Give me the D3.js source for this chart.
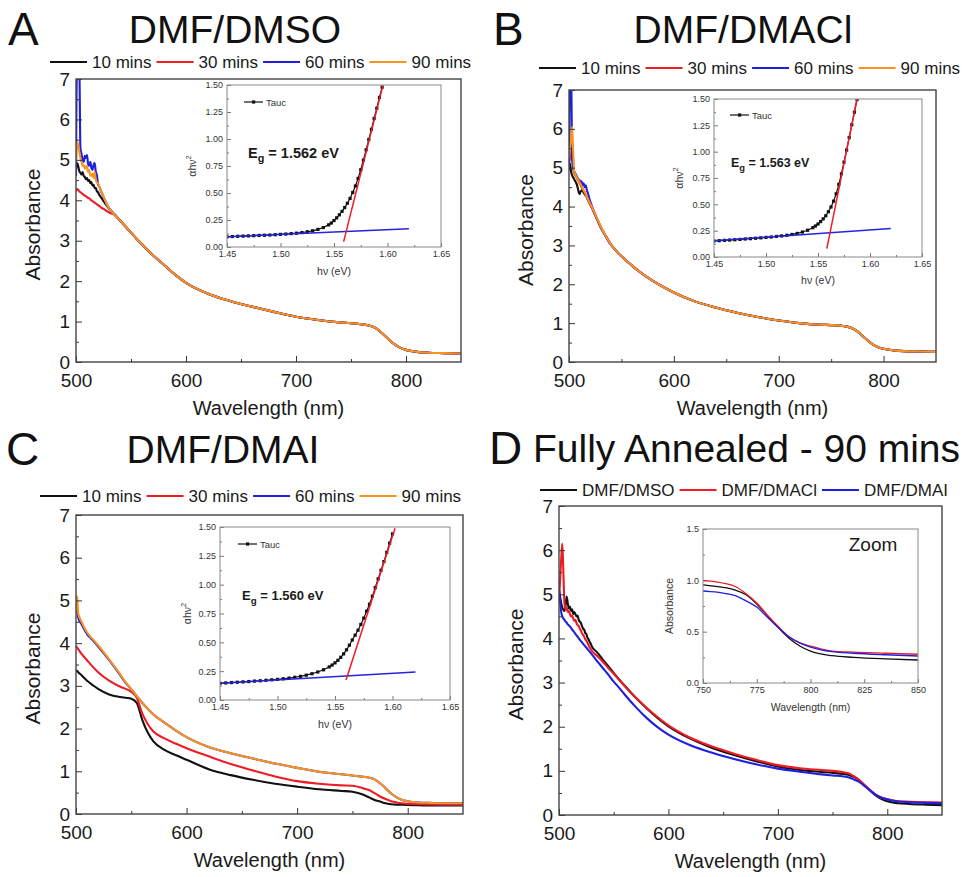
<!DOCTYPE html>
<html>
<head>
<meta charset="utf-8">
<script src="https://cdn.jsdelivr.net/npm/d3@7"></script>
<style>
  body { margin: 0; background: #fff; }
  svg { display: block; }
  text { font-family: "Liberation Sans", Arial, Helvetica, sans-serif; }
</style>
</head>
<body>
<svg id="chart" width="975" height="877"></svg>
<script>
// ---------- absorbance spectra (wavelength in nm, absorbance in a.u.) ----------
const wlHead = [500,501,502,503,504,505,506,507,508,509,510,511,512,513,514,515,
                516,517,518,519,520,521,522,523,524,525,526,527,528,529,530];
const wlTail = [535,540,545,550,555,560,570,580,590,600,620,640,660,680,700,720,740,
                750,760,765,770,775,780,785,790,795,800,810,820,835,850];

// A: DMF/DMSO
const dmsoHead10 = [4.75,4.92,4.85,4.72,4.68,4.64,4.7,4.6,4.58,4.52,4.55,4.48,4.5,4.42,4.45,4.36,
                    4.38,4.3,4.3,4.22,4.2,4.14,4.1,4.06,4.02,3.98,3.94,3.9,3.87,3.83,3.8];
const dmsoHead30 = [4.22,4.28,4.26,4.22,4.2,4.18,4.16,4.13,4.12,4.1,4.08,4.06,4.05,4.02,4.0,3.98,
                    3.96,3.94,3.92,3.9,3.88,3.86,3.84,3.82,3.8,3.79,3.77,3.75,3.73,3.72,3.7];
const dmsoHead60 = [4.6,7.6,7.6,7.4,5.3,5.15,5.0,4.95,5.1,5.05,5.12,4.9,4.85,4.95,4.8,4.75,
                    4.88,4.92,4.7,4.62,4.4,4.35,4.28,4.2,4.15,4.08,4.02,3.96,3.9,3.85,3.8];
const dmsoHead90 = [4.95,5.45,5.35,5.2,5.05,4.95,4.85,4.88,4.78,4.82,4.85,4.7,4.75,4.62,4.6,4.66,
                    4.55,4.7,4.5,4.45,4.42,4.35,4.28,4.22,4.15,4.1,4.02,3.96,3.9,3.85,3.8];
const dmsoTail = [3.65,3.5,3.35,3.2,3.05,2.91,2.64,2.4,2.16,1.96,1.69,1.51,1.37,1.24,1.12,1.04,0.98,
                  0.96,0.93,0.91,0.87,0.79,0.67,0.54,0.43,0.35,0.3,0.25,0.23,0.22,0.21];

// B: DMF/DMACl
const dmaclHead10 = [4.95,5.1,4.9,4.8,4.75,4.7,4.65,4.6,4.52,4.4,4.32,4.38,4.42,4.4,4.36,4.32,
                     4.28,4.24,4.18,4.12,4.06,4.01,3.96,3.9,3.84,3.78,3.72,3.66,3.6,3.54,3.48];
const dmaclHead30 = [5.1,5.3,5.6,5.5,5.0,4.85,4.8,4.76,4.7,4.66,4.6,4.56,4.5,4.46,4.4,4.36,
                     4.3,4.24,4.18,4.12,4.06,4.01,3.96,3.9,3.84,3.78,3.72,3.66,3.6,3.54,3.48];
const dmaclHead60 = [5.0,7.6,7.6,5.2,5.0,4.9,4.85,4.8,4.75,4.7,4.68,4.62,4.65,4.55,4.6,4.5,
                     4.55,4.42,4.35,4.25,4.15,4.08,4.0,3.93,3.86,3.8,3.73,3.67,3.61,3.55,3.49];
const dmaclHead90 = [5.25,5.5,5.75,6.05,5.4,4.9,4.82,4.78,4.72,4.68,4.62,4.58,4.52,4.48,4.42,4.38,
                     4.32,4.26,4.2,4.14,4.08,4.03,3.98,3.92,3.86,3.8,3.74,3.68,3.62,3.56,3.5];
const dmaclTail = [3.24,3.02,2.86,2.72,2.6,2.48,2.27,2.09,1.93,1.79,1.56,1.4,1.27,1.16,1.07,1.0,0.96,
                   0.95,0.93,0.91,0.87,0.79,0.67,0.55,0.45,0.38,0.34,0.3,0.28,0.27,0.26];

// C: DMF/DMAI
const wlDmai = [500,501,502,505,510,515,520,530,540,545,550,555,560,565,570,580,590,600,
                620,640,660,680,700,720,740,750,760,765,770,775,780,785,790,795,800,810,820,835,850];
const dmai10 = [3.37,3.35,3.32,3.25,3.12,3.02,2.93,2.8,2.74,2.72,2.7,2.6,2.2,1.9,1.7,1.5,1.38,1.27,
                1.05,0.91,0.8,0.71,0.64,0.58,0.54,0.52,0.45,0.39,0.33,0.29,0.25,0.23,0.22,0.215,0.21,0.205,0.2,0.2,0.2];
const dmai30 = [3.92,3.9,3.86,3.75,3.6,3.45,3.32,3.12,2.98,2.93,2.86,2.72,2.35,2.1,1.93,1.77,1.65,1.54,
                1.35,1.17,1.02,0.88,0.77,0.71,0.67,0.66,0.6,0.56,0.49,0.41,0.35,0.3,0.27,0.25,0.24,0.23,0.225,0.22,0.22];
const dmai60 = [4.72,4.75,4.6,4.44,4.21,4.07,3.92,3.6,3.25,3.07,2.92,2.76,2.6,2.46,2.33,2.14,1.96,1.8,
                1.57,1.42,1.3,1.18,1.08,0.99,0.93,0.9,0.87,0.85,0.81,0.72,0.6,0.48,0.39,0.33,0.3,0.27,0.26,0.25,0.25];
const dmai90 = [4.75,5.1,4.7,4.5,4.25,4.1,3.95,3.62,3.27,3.08,2.92,2.76,2.6,2.46,2.33,2.14,1.96,1.8,
                1.57,1.42,1.3,1.18,1.08,0.99,0.93,0.9,0.87,0.85,0.81,0.72,0.6,0.48,0.39,0.33,0.3,0.27,0.26,0.25,0.25];

// D: fully annealed films (90 mins)
const finalHeadDmso = [5.1,4.95,4.8,4.7,4.65,4.62,4.75,4.95,4.8,4.68,4.72,4.62,4.66,4.55,4.6,4.55,
                       4.5,4.52,4.42,4.38,4.35,4.28,4.22,4.2,4.12,4.1,4.02,3.98,3.92,3.88,3.82];
const finalHeadDmacl = [4.9,5.3,5.8,6.15,5.5,4.8,4.65,4.7,4.6,4.62,4.55,4.5,4.52,4.45,4.4,4.42,
                        4.35,4.3,4.28,4.22,4.18,4.12,4.08,4.04,3.98,3.95,3.9,3.85,3.8,3.76,3.72];
const finalHeadDmai = [5.1,4.85,4.6,4.5,4.45,4.42,4.38,4.36,4.32,4.3,4.27,4.24,4.2,4.17,4.14,4.1,
                       4.07,4.04,4.0,3.97,3.94,3.91,3.88,3.85,3.82,3.79,3.76,3.73,3.7,3.67,3.64];
const finalTailDmso = [3.68,3.52,3.37,3.22,3.07,2.93,2.66,2.42,2.2,2.01,1.73,1.52,1.36,1.22,1.1,1.02,0.975,
                       0.955,0.93,0.905,0.86,0.77,0.656,0.54,0.435,0.36,0.31,0.266,0.25,0.235,0.224];
const finalTailDmacl = [3.6,3.47,3.33,3.2,3.06,2.92,2.66,2.43,2.22,2.03,1.75,1.55,1.39,1.25,1.13,1.06,1.02,
                        1.0,0.97,0.94,0.87,0.78,0.66,0.55,0.45,0.39,0.36,0.31,0.3,0.29,0.28];
const finalTailDmai = [3.48,3.33,3.18,3.02,2.88,2.73,2.45,2.2,1.99,1.82,1.58,1.41,1.27,1.15,1.05,0.98,0.92,
                       0.896,0.874,0.85,0.8,0.74,0.64,0.54,0.45,0.39,0.35,0.305,0.29,0.275,0.263];

// ---------- Tauc plots (photon energy in eV, (αhν)^2) ----------
const taucHv = [1.450,1.455,1.460,1.465,1.470,1.475,1.480,1.485,1.490,1.495,1.500,1.505,1.510,1.515,
                1.520,1.525,1.530,1.535,1.540,1.545,1.5475,1.550,1.5525,1.555,1.5575,1.560,1.5625,
                1.565,1.5675,1.570,1.5725,1.575,1.5775,1.580,1.5825,1.585,1.5875,1.590,1.5925,1.595,1.5975,1.600];
const taucDmso = [0.094,0.097,0.099,0.101,0.103,0.105,0.107,0.109,0.111,0.114,0.117,0.120,0.124,0.128,
                  0.134,0.141,0.150,0.163,0.180,0.205,0.222,0.245,0.27,0.298,0.33,0.365,0.405,0.45,
                  0.505,0.565,0.635,0.715,0.805,0.9,0.995,1.09,1.19,1.285,1.385,1.48];
const taucDmacl = [0.152,0.155,0.158,0.161,0.164,0.167,0.171,0.174,0.178,0.182,0.186,0.19,0.195,0.2,
                   0.206,0.214,0.224,0.237,0.254,0.278,0.294,0.313,0.336,0.362,0.392,0.43,0.475,0.53,
                   0.6,0.69,0.79,0.9,1.015,1.135,1.255,1.375,1.495];
const taucDmai = [0.145,0.148,0.151,0.154,0.157,0.16,0.164,0.167,0.171,0.175,0.179,0.184,0.19,0.197,
                  0.205,0.215,0.228,0.243,0.262,0.287,0.303,0.322,0.344,0.37,0.4,0.435,0.475,0.52,
                  0.562,0.605,0.655,0.71,0.77,0.83,0.9,0.975,1.05,1.125,1.2,1.28,1.36,1.44];
// linear fits: baseline and absorption edge [[hv, y], [hv, y]]
const baseDmso = [[1.45, 0.095], [1.62, 0.168]];
const edgeDmso = [[1.559, 0.05], [1.5958, 1.50]];
const baseDmacl = [[1.45, 0.155], [1.62, 0.27]];
const edgeDmacl = [[1.5585, 0.08], [1.5875, 1.50]];
const baseDmai = [[1.45, 0.145], [1.62, 0.243]];
const edgeDmai = [[1.5596, 0.173], [1.6022, 1.49]];
const bandGaps = ["1.562", "1.563", "1.560"];

// ---------- labels and ticks ----------
const timeLabels = ["10 mins", "30 mins", "60 mins", "90 mins"];
const solventLabels = ["DMF/DMSO", "DMF/DMACl", "DMF/DMAI"];
const panelTitles = ["DMF/DMSO", "DMF/DMACl", "DMF/DMAI", "Fully Annealed - 90 mins"];
const panelLetters = ["A", "B", "C", "D"];
const wlTicks = [500, 600, 700, 800];
const wlMinor = [550, 650, 750];
const absTicks = [0, 1, 2, 3, 4, 5, 6, 7];
const absMinor = [0.5, 1.5, 2.5, 3.5, 4.5, 5.5, 6.5];
const hvTicks = [1.45, 1.50, 1.55, 1.60, 1.65];
const hvMinor = [1.475, 1.525, 1.575, 1.625];
const taucTicks = [0, 0.25, 0.5, 0.75, 1.0, 1.25, 1.5];
const taucMinor = [0.125, 0.375, 0.625, 0.875, 1.125, 1.375];
const zoomWlTicks = [750, 775, 800, 825, 850];
const zoomWlMinor = [762.5, 787.5, 812.5, 837.5];
const zoomAbsTicks = [0, 0.5, 1.0, 1.5];
const zoomAbsMinor = [0.25, 0.75, 1.25];

const colors = ["#111111", "#ee1c24", "#1f1fe0", "#f7931e"];

const svg = d3.select("#chart");
const defs = svg.append("defs");
let clipCount = 0;

function addClip(x0, y0, x1, y1) {
  const id = "clip" + (clipCount++);
  defs.append("clipPath").attr("id", id).append("rect")
    .attr("x", x0).attr("y", y0).attr("width", x1 - x0).attr("height", y1 - y0);
  return `url(#${id})`;
}

function styleAxis(sel, size, color) {
  sel.select(".domain").remove();
  sel.selectAll("line").attr("stroke", "#333").attr("stroke-width", 1);
  sel.selectAll("text").attr("font-size", size).attr("fill", color);
}

// ---------- main spectrum panel ----------
function drawMain(p) {
  const x = d3.scaleLinear().domain([500, 850]).range([p.left, p.right]);
  const y = d3.scaleLinear().domain([0, 7]).range([p.bottom, p.top]);
  const g = svg.append("g");

  const line = d3.line().x(d => x(d[0])).y(d => y(d[1])).curve(d3.curveMonotoneX);
  const plot = g.append("g").attr("clip-path", addClip(p.left, p.top, p.right, p.bottom));
  p.series.forEach(s => {
    plot.append("path").datum(s.points)
      .attr("fill", "none").attr("stroke", s.color).attr("stroke-width", 2.1)
      .attr("stroke-linejoin", "round").attr("d", line);
  });

  const bx = g.append("g").attr("transform", `translate(0,${p.bottom})`)
    .call(d3.axisBottom(x).tickValues(wlTicks).tickFormat(d3.format("d")).tickSize(-6).tickPadding(12));
  styleAxis(bx, 19, "#1a1a1a");
  const bxm = g.append("g").attr("transform", `translate(0,${p.bottom})`)
    .call(d3.axisBottom(x).tickValues(wlMinor).tickFormat("").tickSize(-3));
  styleAxis(bxm, 0, "none");
  const ly = g.append("g").attr("transform", `translate(${p.left},0)`)
    .call(d3.axisLeft(y).tickValues(absTicks).tickFormat(d3.format("d")).tickSize(-6).tickPadding(6));
  styleAxis(ly, 19, "#1a1a1a");
  const lym = g.append("g").attr("transform", `translate(${p.left},0)`)
    .call(d3.axisLeft(y).tickValues(absMinor).tickFormat("").tickSize(-3));
  styleAxis(lym, 0, "none");

  g.append("rect").attr("x", p.left).attr("y", p.top)
    .attr("width", p.right - p.left).attr("height", p.bottom - p.top)
    .attr("fill", "none").attr("stroke", "#444").attr("stroke-width", 1.4);

  g.append("text").attr("x", (p.left + p.right) / 2).attr("y", p.bottom + 53)
    .attr("text-anchor", "middle").attr("font-size", 20).attr("fill", "#1a1a1a")
    .text("Wavelength (nm)");
  g.append("text")
    .attr("transform", `translate(${p.left - 36},${(p.top + p.bottom) / 2 + 4}) rotate(-90)`)
    .attr("text-anchor", "middle").attr("font-size", 21).attr("fill", "#1a1a1a")
    .text("Absorbance");
  return { x, y };
}

// ---------- legend row ----------
function drawLegend(x0, y, labels, cols) {
  let cx = x0;
  labels.forEach((lab, i) => {
    svg.append("line").attr("x1", cx).attr("x2", cx + 37).attr("y1", y).attr("y2", y)
      .attr("stroke", cols[i]).attr("stroke-width", 2.2);
    const t = svg.append("text").attr("x", cx + 42).attr("y", y + 6)
      .attr("font-size", 17).attr("fill", "#1a1a1a").text(lab);
    cx = cx + 42 + t.node().getComputedTextLength() + 5;
  });
}

// ---------- inset frame and axes ----------
function drawInset(p) {
  const x = d3.scaleLinear().domain(p.xDomain).range([p.left, p.right]);
  const y = d3.scaleLinear().domain(p.yDomain).range([p.bottom, p.top]);
  const g = svg.append("g");
  g.append("rect").attr("x", p.left).attr("y", p.top)
    .attr("width", p.right - p.left).attr("height", p.bottom - p.top)
    .attr("fill", "#fff").attr("stroke", "none");

  const bx = g.append("g").attr("transform", `translate(0,${p.bottom})`)
    .call(d3.axisBottom(x).tickValues(p.xTicks).tickFormat(p.xFmt).tickSize(-4).tickPadding(4));
  styleAxis(bx, 9, "#333");
  const bxm = g.append("g").attr("transform", `translate(0,${p.bottom})`)
    .call(d3.axisBottom(x).tickValues(p.xMinor).tickFormat("").tickSize(-2));
  styleAxis(bxm, 0, "none");
  const ly = g.append("g").attr("transform", `translate(${p.left},0)`)
    .call(d3.axisLeft(y).tickValues(p.yTicks).tickFormat(p.yFmt).tickSize(-4).tickPadding(4));
  styleAxis(ly, 9, "#333");
  const lym = g.append("g").attr("transform", `translate(${p.left},0)`)
    .call(d3.axisLeft(y).tickValues(p.yMinor).tickFormat("").tickSize(-2));
  styleAxis(lym, 0, "none");
  g.selectAll("line").attr("stroke", "#777");

  const content = g.append("g").attr("clip-path", addClip(p.left, p.top, p.right, p.bottom));
  p.draw(content, x, y);

  g.append("rect").attr("x", p.left).attr("y", p.top)
    .attr("width", p.right - p.left).attr("height", p.bottom - p.top)
    .attr("fill", "none").attr("stroke", "#888").attr("stroke-width", 1);

  g.append("text").attr("x", (p.left + p.right) / 2).attr("y", p.bottom + p.xLabelDy)
    .attr("text-anchor", "middle").attr("font-size", 10.5).attr("fill", "#333")
    .call(p.xLabel);
  g.append("text")
    .attr("transform", `translate(${p.left - p.yLabelDx},${(p.top + p.bottom) / 2}) rotate(-90)`)
    .attr("text-anchor", "middle").attr("font-size", 10.5).attr("fill", "#333")
    .call(p.yLabel);
  return g;
}

function hvLabel(t) {
  t.text("hν (eV)");
}
function taucYLabel(t) {
  t.append("tspan").text("αhν");
  t.append("tspan").attr("dy", -5).attr("font-size", 7.5).text("2");
}

function drawTaucInset(box, values, base, edge, gap, eg) {
  const g = drawInset({
    ...box,
    xDomain: [1.45, 1.65], yDomain: [0, 1.5],
    xTicks: hvTicks, xMinor: hvMinor, xFmt: d3.format(".2f"),
    yTicks: taucTicks, yMinor: taucMinor, yFmt: d3.format(".2f"),
    xLabel: hvLabel, yLabel: taucYLabel,
    draw: (c, x, y) => {
      const pts = d3.zip(taucHv, values);
      const ln = d3.line().x(d => x(d[0])).y(d => y(d[1]));
      c.append("path").datum(pts).attr("fill", "none").attr("stroke", "#111")
        .attr("stroke-width", 1.2).attr("d", ln);
      c.selectAll("rect.m").data(pts).join("rect").attr("class", "m")
        .attr("x", d => x(d[0]) - 1.6).attr("y", d => y(d[1]) - 1.6)
        .attr("width", 3.2).attr("height", 3.2).attr("fill", "#111");
      c.append("path").datum(base).attr("fill", "none").attr("stroke", "#2424e0")
        .attr("stroke-width", 1.5).attr("d", ln);
      c.append("path").datum(edge).attr("fill", "none").attr("stroke", "#ee1c24")
        .attr("stroke-width", 1.5).attr("d", ln);
    }
  });
  // legend entry
  g.append("line").attr("x1", eg.lx).attr("x2", eg.lx + 19).attr("y1", eg.ly).attr("y2", eg.ly)
    .attr("stroke", "#111").attr("stroke-width", 1.2);
  g.append("rect").attr("x", eg.lx + 8).attr("y", eg.ly - 1.6).attr("width", 3.2).attr("height", 3.2)
    .attr("fill", "#111");
  g.append("text").attr("x", eg.lx + 22).attr("y", eg.ly + 3.5).attr("font-size", 9.5)
    .attr("fill", "#333").text("Tauc");
  // band gap annotation
  const t = g.append("text").attr("x", eg.tx).attr("y", eg.ty).attr("font-size", eg.size)
    .attr("font-weight", "bold").attr("fill", "#1a1a1a");
  t.append("tspan").text("E");
  t.append("tspan").attr("dy", eg.size * 0.3).attr("font-size", eg.size * 0.75).text("g");
  t.append("tspan").attr("dy", -eg.size * 0.3).text(" = " + gap + " eV");
}

function titles(i, letterX, baseline, titleX, anchor) {
  svg.append("text").attr("x", letterX).attr("y", baseline + 2).attr("font-size", 46)
    .attr("fill", "#111").text(panelLetters[i]);
  svg.append("text").attr("x", titleX).attr("y", baseline).attr("font-size", 39)
    .attr("text-anchor", anchor).attr("fill", "#111").text(panelTitles[i]);
}

function headTail(head, tail) {
  return d3.zip(wlHead.concat(wlTail), head.concat(tail));
}

// ---------- Panel A ----------
titles(0, 8, 43, 235, "middle");
drawLegend(50, 62, timeLabels, colors);
drawMain({
  left: 76, right: 461, top: 79, bottom: 362,
  series: [dmsoHead10, dmsoHead30, dmsoHead60, dmsoHead90].map((h, i) => ({
    color: colors[i], points: headTail(h, dmsoTail)
  }))
});
drawTaucInset({ left: 227, right: 441, top: 85, bottom: 247, xLabelDy: 28, yLabelDx: 31 },
  taucDmso, baseDmso, edgeDmso, bandGaps[0],
  { lx: 244, ly: 102, tx: 248, ty: 158, size: 14.5 });

// ---------- Panel B ----------
titles(1, 493, 43, 743, "middle");
drawLegend(539, 68, timeLabels, colors);
drawMain({
  left: 569, right: 936, top: 90, bottom: 362,
  series: [dmaclHead10, dmaclHead30, dmaclHead60, dmaclHead90].map((h, i) => ({
    color: colors[i], points: headTail(h, dmaclTail)
  }))
});
drawTaucInset({ left: 714, right: 922, top: 99, bottom: 257, xLabelDy: 27, yLabelDx: 31 },
  taucDmacl, baseDmacl, edgeDmacl, bandGaps[1],
  { lx: 730, ly: 115, tx: 731, ty: 167, size: 12.5 });

// ---------- Panel C ----------
titles(2, 6, 463, 223, "middle");
drawLegend(40, 496, timeLabels, colors);
drawMain({
  left: 76, right: 463, top: 515, bottom: 814,
  series: [dmai10, dmai30, dmai60, dmai90].map((v, i) => ({
    color: colors[i], points: d3.zip(wlDmai, v)
  }))
});
drawTaucInset({ left: 220, right: 450, top: 527, bottom: 700, xLabelDy: 28, yLabelDx: 29 },
  taucDmai, baseDmai, edgeDmai, bandGaps[2],
  { lx: 238, ly: 544, tx: 242, ty: 600, size: 13 });

// ---------- Panel D ----------
titles(3, 489, 462, 533, "start");
drawLegend(540, 490, solventLabels, colors.slice(0, 3));
const finalSeries = [
  { color: colors[0], points: headTail(finalHeadDmso, finalTailDmso) },
  { color: colors[1], points: headTail(finalHeadDmacl, finalTailDmacl) },
  { color: colors[2], points: headTail(finalHeadDmai, finalTailDmai) }
];
drawMain({ left: 559, right: 942, top: 506, bottom: 815, series: finalSeries });
const zoomInset = drawInset({
  left: 703, right: 918, top: 529, bottom: 683, xLabelDy: 28, yLabelDx: 30,
  xDomain: [750, 850], yDomain: [0, 1.5],
  xTicks: zoomWlTicks, xMinor: zoomWlMinor, xFmt: d3.format("d"),
  yTicks: zoomAbsTicks, yMinor: zoomAbsMinor, yFmt: d3.format(".1f"),
  xLabel: t => t.text("Wavelength (nm)"),
  yLabel: t => t.text("Absorbance"),
  draw: (c, x, y) => {
    const ln = d3.line().x(d => x(d[0])).y(d => y(d[1])).curve(d3.curveMonotoneX);
    finalSeries.forEach(s => {
      c.append("path").datum(s.points.filter(d => d[0] >= 740))
        .attr("fill", "none").attr("stroke", s.color).attr("stroke-width", 1.3).attr("d", ln);
    });
  }
});
zoomInset.append("text").attr("x", 873).attr("y", 551).attr("text-anchor", "middle")
  .attr("font-size", 19).attr("fill", "#1a1a1a").text("Zoom");
</script>
</body>
</html>
